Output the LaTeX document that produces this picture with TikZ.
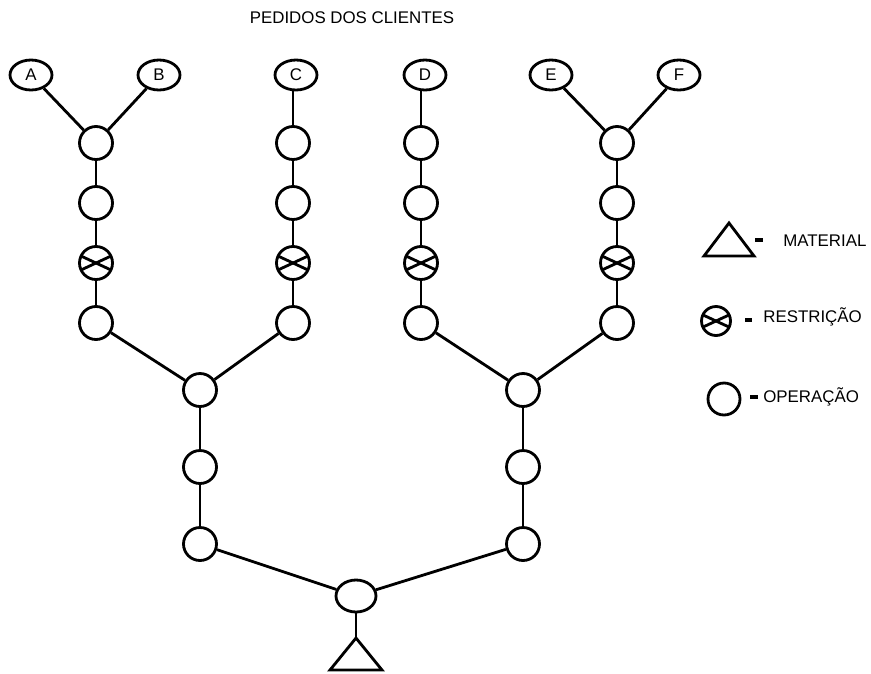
\documentclass[tikz,border=0pt]{standalone}
\usepackage{fontspec}
\setmainfont{Liberation Sans}
\usetikzlibrary{shapes.geometric, positioning}

\tikzset{
    order/.style={
        ellipse, draw, line width=1.6pt, minimum width=0.84cm, minimum height=0.6cm, inner sep=0pt, font=\fontsize{9.6}{11}\selectfont
    },
    operation/.style={
        circle, draw, line width=1.6pt, minimum size=0.66cm, inner sep=0pt
    },
    restriction/.style={
        operation, path picture={
            \draw[line width=1.6pt, shift={(path picture bounding box.center)}] (155:0.4cm) -- (-25:0.4cm);
            \draw[line width=1.6pt, shift={(path picture bounding box.center)}] (205:0.4cm) -- (25:0.4cm);
        }
    },
    link/.style={line width=1.6pt},
    dashmark/.style={line width=2pt},
    legendtext/.style={inner sep=0pt, font=\fontsize{9.6}{11}\selectfont}
}

\begin{document}
\begin{tikzpicture}[x=0.02cm, y=-0.02cm]

    \useasboundingbox (0,0) rectangle (871,673);

    % Title
    \node[legendtext, anchor=base] (title) at (352,23) {PEDIDOS DOS CLIENTES};

    % Customer orders
    \node[order] (A) at (31,75) {A};
    \node[order] (B) at (159,75) {B};
    \node[order] (C) at (296,75) {C};
    \node[order] (D) at (425,75) {D};
    \node[order] (E) at (551,75) {E};
    \node[order] (F) at (679,75) {F};

    % Branch A/B
    \node[operation] (a1) at (96,143) {};
    \node[operation] (a2) at (96,203) {};
    \node[restriction] (a3) at (96,263) {};
    \node[operation] (a4) at (96,323) {};

    % Branch C
    \node[operation] (c1) at (293,143) {};
    \node[operation] (c2) at (293,203) {};
    \node[restriction] (c3) at (293,263) {};
    \node[operation] (c4) at (293,323) {};

    % Branch D
    \node[operation] (d1) at (421,143) {};
    \node[operation] (d2) at (421,203) {};
    \node[restriction] (d3) at (421,263) {};
    \node[operation] (d4) at (421,323) {};

    % Branch E/F
    \node[operation] (f1) at (617,143) {};
    \node[operation] (f2) at (617,203) {};
    \node[restriction] (f3) at (617,263) {};
    \node[operation] (f4) at (617,323) {};

    % Left assembly
    \node[operation] (m1) at (200,390) {};
    \node[operation] (m2) at (200,467) {};
    \node[operation] (m3) at (200,544) {};

    % Right assembly
    \node[operation] (n1) at (523,390) {};
    \node[operation] (n2) at (523,467) {};
    \node[operation] (n3) at (523,544) {};

    % Base operation and material
    \node[order, minimum width=0.8cm, minimum height=0.64cm] (base) at (356,596) {};
    \coordinate (mat) at (356,638);
    \draw[link, line join=miter] (mat) -- ++(-26,32) -- ++(52,0) -- cycle;

    % Relationships
    \draw[link] (A) -- (a1);
    \draw[link] (B) -- (a1);
    \draw[link] (a1) -- (a2);
    \draw[link] (a2) -- (a3);
    \draw[link] (a3) -- (a4);
    \draw[link] (C.south -| c1) -- (c1);
    \draw[link] (c1) -- (c2);
    \draw[link] (c2) -- (c3);
    \draw[link] (c3) -- (c4);
    \draw[link] (D.south -| d1) -- (d1);
    \draw[link] (d1) -- (d2);
    \draw[link] (d2) -- (d3);
    \draw[link] (d3) -- (d4);
    \draw[link] (E) -- (f1);
    \draw[link] (F) -- (f1);
    \draw[link] (f1) -- (f2);
    \draw[link] (f2) -- (f3);
    \draw[link] (f3) -- (f4);
    \draw[link] (a4) -- (m1);
    \draw[link] (c4) -- (m1);
    \draw[link] (d4) -- (n1);
    \draw[link] (f4) -- (n1);
    \draw[link] (m1) -- (m2);
    \draw[link] (m2) -- (m3);
    \draw[link] (n1) -- (n2);
    \draw[link] (n2) -- (n3);
    \draw[link] (m3) -- (base);
    \draw[link] (n3) -- (base);
    \draw[link] (base) -- (mat);

    % Legend
    \coordinate (keymat) at (729,223);
    \draw[link, line join=miter] (keymat) -- ++(-25,33) -- ++(50,0) -- cycle;
    \draw[dashmark] (755,240) -- (763,240);
    \node[legendtext, anchor=base west] (txtmat) at (783,246) {MATERIAL};

    \node[restriction, minimum size=0.58cm] (keyres) at (716,321) {};
    \draw[dashmark] (745,320) -- (752,320);
    \node[legendtext, anchor=base west] (txtres) at (763,322) {RESTRIÇÃO};

    \node[operation, minimum size=0.64cm] (keyop) at (724,399) {};
    \draw[dashmark] (750,397) -- (758,397);
    \node[legendtext, anchor=base west] (txtop) at (763,402) {OPERAÇÃO};

\end{tikzpicture}
\end{document}
